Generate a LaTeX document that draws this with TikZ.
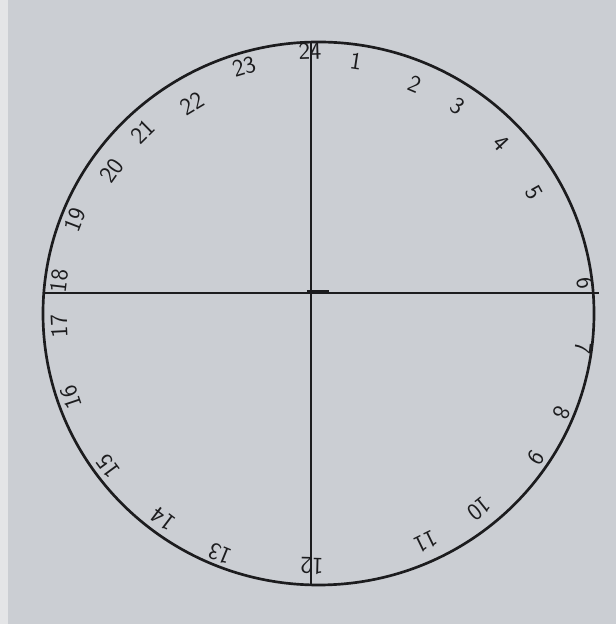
\documentclass[tikz,border=0pt]{standalone}
\usepackage{tikz}
\definecolor{PaperGray}{HTML}{CBCED3}
\definecolor{PaperEdge}{HTML}{E4E5E7}
\definecolor{InkDark}{HTML}{1C1C1E}

\begin{document}
\begin{tikzpicture}[x=0.025cm,y=0.025cm,
    hour/.style={text=InkDark,font=\sffamily\LARGE,inner sep=0pt}]
      \fill[PaperGray] (0,0) rectangle (616,624);
      \fill[PaperEdge] (0,0) rectangle (8,624);
      \useasboundingbox (0,0) rectangle (616,624);
      % dial
      \coordinate (centre) at (318.5,310.5);
      \draw[InkDark,line width=1.9pt] (centre) ellipse (275.5 and 271.5);
      \coordinate (top) at (311,582);
      \coordinate (bottom) at (311,39);
      \coordinate (left) at (43,331);
      \coordinate (right) at (599,331);
      \draw[InkDark,line width=1.2pt] (top) -- (bottom);
      \draw[InkDark,line width=1.2pt] (left) -- (right);
      \coordinate (markA) at (307,332);
      \coordinate (markB) at (329,332);
      \draw[InkDark,line width=2.4pt] (markA) -- (markB);
      % hours
      \node[hour,rotate=1.7] (h24) at (310,573) {24};
      \node[hour,rotate=-8.6] (h1) at (356,563) {1};
      \node[hour,rotate=-22.9] (h2) at (415,540) {2};
      \node[hour,rotate=-34] (h3) at (458,518) {3};
      \node[hour,rotate=-47] (h4) at (501,481) {4};
      \node[hour,rotate=-60.8] (h5) at (534,431) {5};
      \node[hour,rotate=-83.5] (h6) at (585,341) {6};
      \node[hour,rotate=-97.4] (h7) at (583,276) {7};
      \node[hour,rotate=-112.2] (h8) at (562,211) {8};
      \node[hour,rotate=-123.5] (h9) at (536,166) {9};
      \node[hour,rotate=-141.2] (h10) at (479,115) {10};
      \node[hour,rotate=-154.1] (h11) at (426,82) {11};
      \node[hour,rotate=-181.4] (h12) at (312,58) {12};
      \node[hour,rotate=-202.2] (h13) at (220,70) {13};
      \node[hour,rotate=-217] (h14) at (163,105) {14};
      \node[hour,rotate=-233.7] (h15) at (108,158) {15};
      \node[hour,rotate=-251.3] (h16) at (71,227) {16};
      \node[hour,rotate=-267.2] (h17) at (59,298) {17};
      \node[hour,rotate=-276.7] (h18) at (59,343) {18};
      \node[hour,rotate=-291] (h19) at (75,404) {19};
      \node[hour,rotate=-305.3] (h20) at (112,453) {20};
      \node[hour,rotate=-315.4] (h21) at (143,492) {21};
      \node[hour,rotate=-329] (h22) at (192,520) {22};
      \node[hour,rotate=-343.3] (h23) at (244,557) {23};
    \end{tikzpicture}
\end{document}
